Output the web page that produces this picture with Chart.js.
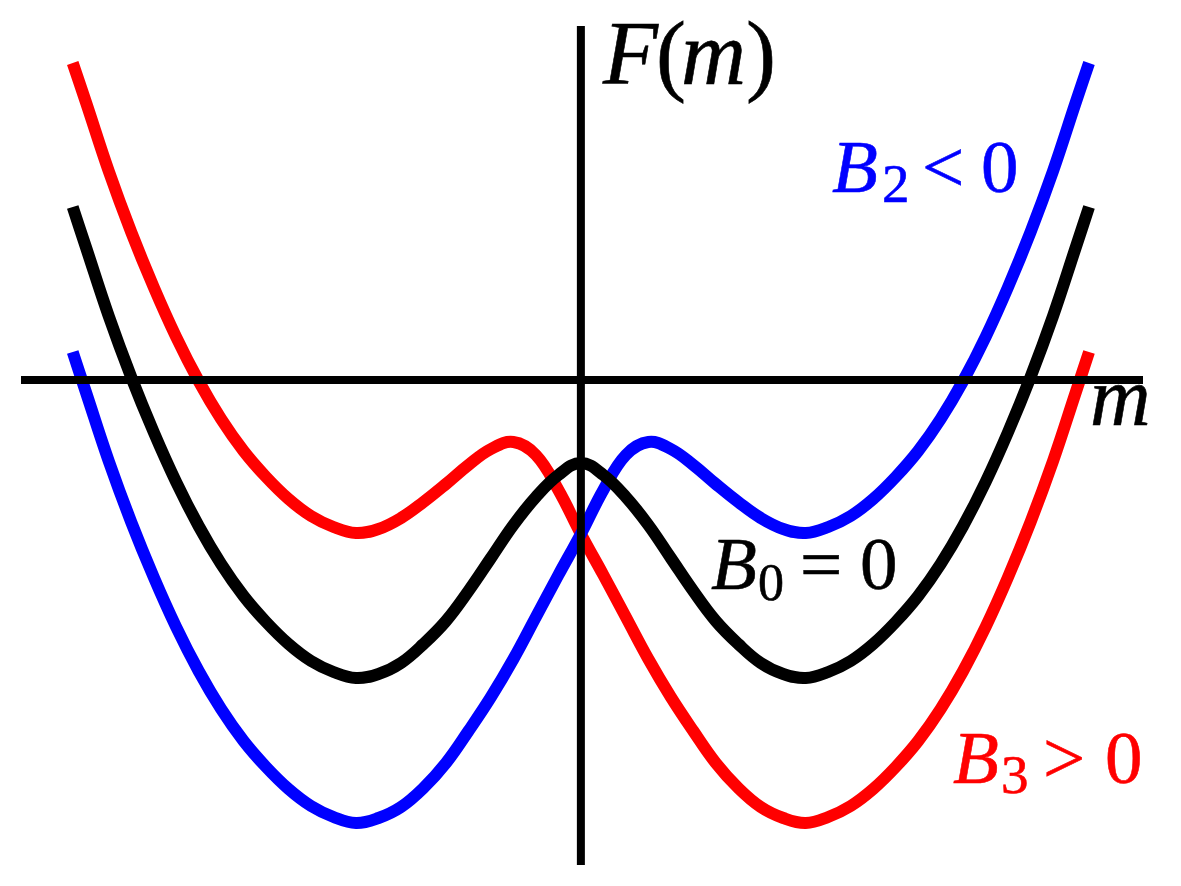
<!DOCTYPE html>
<html>
<head>
<meta charset="utf-8">
<title>F(m)</title>
<script src="https://cdn.jsdelivr.net/npm/chart.js@4/dist/chart.umd.min.js"></script>
<style>
    html, body { margin: 0; padding: 0; background: #fff; }
    canvas { display: block; }
</style>
</head>
<body>
<canvas id="grafico" width="1181" height="886"></canvas>
<script>
// ===================== DADOS =====================
const mValores = [
    -2.26, -2.2, -2.1, -2.0, -1.9, -1.8, -1.7, -1.6, -1.5, -1.4, -1.3, -1.2,
    -1.1, -1.0, -0.9, -0.8, -0.7, -0.6, -0.5, -0.4, -0.3, -0.2, -0.1, 0,
    0.1, 0.2, 0.3, 0.4, 0.5, 0.6, 0.7, 0.8, 0.9, 1.0, 1.1, 1.2,
    1.3, 1.4, 1.5, 1.6, 1.7, 1.8, 1.9, 2.0, 2.1, 2.2, 2.26
];

// B0 = 0 (preto)
const fB0 = [
    1.73, 1.32, 0.64, 0.03, -0.52, -1.02, -1.46, -1.84, -2.16, -2.42, -2.64, -2.81,
    -2.92, -2.98, -2.94, -2.83, -2.64, -2.41, -2.11, -1.78, -1.45, -1.17, -0.95, -0.83,
    -0.95, -1.17, -1.45, -1.78, -2.11, -2.41, -2.64, -2.83, -2.94, -2.98, -2.92, -2.81,
    -2.64, -2.42, -2.16, -1.84, -1.46, -1.02, -0.52, 0.03, 0.64, 1.32, 1.73
];

// B2 < 0 (azul)
const fB2 = [
    0.28, -0.13, -0.81, -1.42, -1.97, -2.47, -2.91, -3.29, -3.61, -3.87, -4.09, -4.26,
    -4.37, -4.43, -4.38, -4.27, -4.08, -3.83, -3.51, -3.17, -2.79, -2.37, -1.95, -1.54,
    -1.10, -0.75, -0.62, -0.69, -0.85, -1.04, -1.22, -1.38, -1.49, -1.53, -1.47, -1.36,
    -1.19, -0.97, -0.71, -0.39, -0.01, 0.43, 0.93, 1.48, 2.09, 2.77, 3.17
];

// B3 > 0 (vermelho)
const fB3 = [
    3.17, 2.77, 2.09, 1.48, 0.93, 0.43, -0.01, -0.39, -0.71, -0.97, -1.19, -1.36,
    -1.47, -1.53, -1.49, -1.38, -1.22, -1.04, -0.85, -0.69, -0.62, -0.75, -1.10, -1.54,
    -1.95, -2.37, -2.79, -3.17, -3.51, -3.83, -4.08, -4.27, -4.38, -4.43, -4.37, -4.26,
    -4.09, -3.87, -3.61, -3.29, -2.91, -2.47, -1.97, -1.42, -0.81, -0.13, 0.28
];

const pontos = valores => mValores.map((m, i) => ({ x: m, y: valores[i] }));

// ===================== EIXOS E RÓTULOS =====================
const serif = '"Liberation Serif", "Times New Roman", serif';
const it = px => `italic ${px}px ${serif}`;
const rm = px => `${px}px ${serif}`;

// [texto, fonte, x, linha de base]
const rotulos = [
    { cor: "#000000", partes: [
        ["F", it(90), 603, 84], ["(", rm(90), 656, 84], ["m", it(90), 681, 84], [")", rm(90), 746, 84]
    ]},
    { cor: "#000000", partes: [["m", it(84), 1090, 425]] },
    { cor: "#0000ff", partes: [
        ["B", it(75), 832, 192], ["2", rm(55), 882, 202], ["<", rm(75), 922, 192], ["0", rm(75), 981, 192]
    ]},
    { cor: "#000000", partes: [
        ["B", it(75), 711, 589], ["0", rm(52), 758, 600], ["=", rm(75), 800, 589], ["0", rm(75), 860, 589]
    ]},
    { cor: "#ff0000", partes: [
        ["B", it(75), 953, 783], ["3", rm(55), 1001, 793], [">", rm(75), 1043, 783], ["0", rm(75), 1105, 783]
    ]}
];

const eixosPlugin = {
    id: "eixos",
    afterDatasetsDraw(chart) {
        const { ctx, chartArea, scales } = chart;
        const x0 = scales.x.getPixelForValue(0);
        const y0 = scales.y.getPixelForValue(0);
        ctx.save();
        ctx.strokeStyle = "#000000";
        ctx.lineWidth = 8;
        ctx.beginPath();
        ctx.moveTo(chartArea.left, y0);
        ctx.lineTo(chartArea.right, y0);
        ctx.moveTo(x0, chartArea.top);
        ctx.lineTo(x0, chartArea.bottom);
        ctx.stroke();

        // texto um pouco mais grosso, como no original
        ctx.textBaseline = "alphabetic";
        ctx.textAlign = "left";
        ctx.lineWidth = 0.6;
        rotulos.forEach(r => {
            ctx.fillStyle = r.cor;
            ctx.strokeStyle = r.cor;
            r.partes.forEach(([t, fonte, x, y]) => {
                ctx.font = fonte;
                ctx.fillText(t, x, y);
                ctx.strokeText(t, x, y);
            });
        });
        ctx.restore();
    }
};

// ===================== GRÁFICO =====================
const ctx = document.getElementById("grafico").getContext("2d");
new Chart(ctx, {
    type: "line",
    data: {
        datasets: [
            { label: "B0 = 0", data: pontos(fB0), borderColor: "#000000" },
            { label: "B2 < 0", data: pontos(fB2), borderColor: "#0000ff" },
            { label: "B3 > 0", data: pontos(fB3), borderColor: "#ff0000" }
        ]
    },
    options: {
        responsive: false,
        animation: false,
        layout: { padding: { left: 21, top: 26, right: 38, bottom: 21 } },
        elements: {
            line: { borderWidth: 12, tension: 0.4, fill: false },
            point: { radius: 0, hoverRadius: 0 }
        },
        plugins: {
            legend: { display: false },
            tooltip: { enabled: false }
        },
        scales: {
            x: { type: "linear", min: -2.49, max: 2.50, display: false },
            y: { type: "linear", min: -4.85, max: 3.54, display: false }
        }
    },
    plugins: [eixosPlugin]
});
</script>
</body>
</html>
